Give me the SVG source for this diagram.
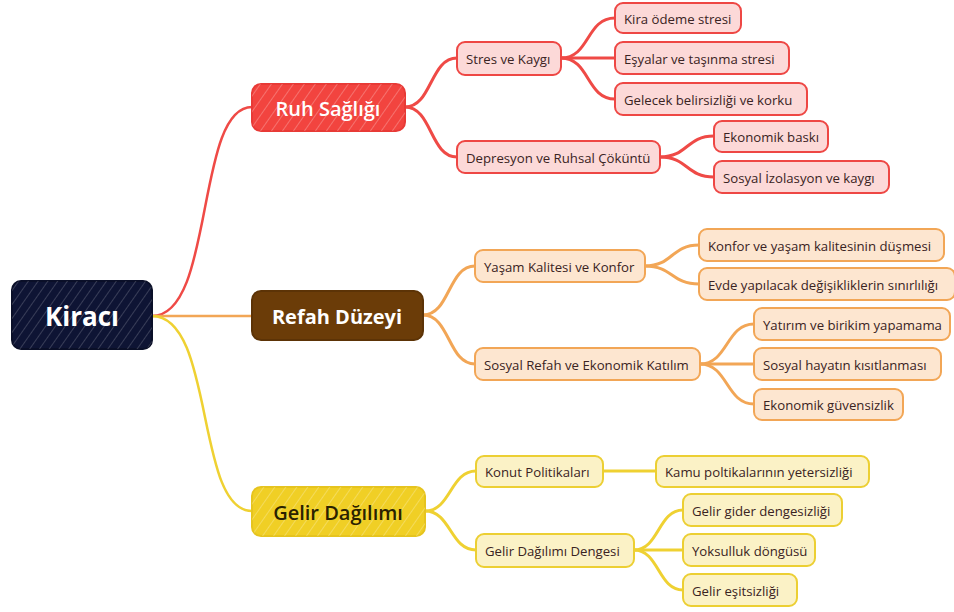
<svg xmlns="http://www.w3.org/2000/svg" width="954" height="612" viewBox="0 0 954 612">
<defs>
<pattern id="hatch" width="8" height="8" patternUnits="userSpaceOnUse" patternTransform="rotate(35)">
<line x1="0" y1="0" x2="0" y2="8" stroke="#ffffff" stroke-width="1" stroke-opacity="0.35"/>
</pattern>
<pattern id="hatchL" width="9" height="9" patternUnits="userSpaceOnUse" patternTransform="rotate(35)">
<line x1="0" y1="0" x2="0" y2="9" stroke="#ffffff" stroke-width="1" stroke-opacity="0.5"/>
</pattern>
</defs>
<style>
text{font-family:"Open Sans","Liberation Sans",sans-serif;dominant-baseline:central;text-anchor:middle}
.t1{font-size:20px;font-weight:600;fill:#ffffff}
.t1b{font-size:20px;font-weight:bold;fill:#ffffff}
.t1d{font-size:20px;font-weight:600;fill:#2a2200}
.t0{font-size:26px;font-weight:bold;fill:#ffffff}
.t{font-size:13.2px;fill:#3a2323;text-anchor:start}
.r{fill:#fcd9d8;stroke:#ee4744;stroke-width:2}
.o{fill:#fde6d0;stroke:#f2a656;stroke-width:2}
.y{fill:#fbf2c6;stroke:#eccf33;stroke-width:2}
.c{fill:none;stroke-linecap:round}
.cr{stroke:#ef4a46}
.co{stroke:#f2a656}
.cy{stroke:#efd132}
.w3{stroke-width:3}
.w2{stroke-width:2.5}
</style>
<g id="connectors">
<path class="c cr w2" d="M152,316 C215,316 195,107 252,107"/>
<path class="c co w2" d="M152,316 L252,316"/>
<path class="c cy w2" d="M152,316 C215,316 195,511 252,511"/>
<path class="c cr w3" d="M405,107 C432,107 430,58 457,58"/>
<path class="c cr w3" d="M405,107 C432,107 430,157 457,157"/>
<path class="c cr w3" d="M561,58 C590,58 586,18 615,18"/>
<path class="c cr w3" d="M561,58 L615,58"/>
<path class="c cr w3" d="M561,58 C590,58 586,99 615,99"/>
<path class="c cr w3" d="M660,157 C688,157 686,136 714,136"/>
<path class="c cr w3" d="M660,157 C688,157 686,177 714,177"/>
<path class="c co w3" d="M423,315 C450,315 448,266 475,266"/>
<path class="c co w3" d="M423,315 C450,315 448,364 475,364"/>
<path class="c co w3" d="M645,266 C673,266 671,245 699,245"/>
<path class="c co w3" d="M645,266 C673,266 671,284 699,284"/>
<path class="c co w3" d="M700,364 C728,364 726,324 754,324"/>
<path class="c co w3" d="M700,364 L754,364"/>
<path class="c co w3" d="M700,364 C728,364 726,404 754,404"/>
<path class="c cy w3" d="M425,511 C451,511 450,471 476,471"/>
<path class="c cy w3" d="M425,511 C451,511 450,550 476,550"/>
<path class="c cy w3" d="M603,471 L656,471"/>
<path class="c cy w3" d="M634,550 C659,550 658,510 683,510"/>
<path class="c cy w3" d="M634,550 L683,550"/>
<path class="c cy w3" d="M634,550 C659,550 658,590 683,590"/>
</g>
<g id="root">
<rect x="12" y="281" width="140" height="68" rx="9" fill="#0e1434" stroke="#0a0f28" stroke-width="2"/>
<rect x="12" y="281" width="140" height="68" rx="9" fill="url(#hatch)"/>
<text class="t0" x="82" y="316">Kiracı</text>
</g>
<g id="ruh">
<rect x="252" y="84" width="153" height="47" rx="9" fill="#f2443f" stroke="#e83a36" stroke-width="2"/>
<rect x="252" y="84" width="153" height="47" rx="9" fill="url(#hatchL)"/>
<text class="t1" x="328" y="108">Ruh Sağlığı</text>
</g>
<g id="refah">
<rect x="252" y="291" width="171" height="49" rx="9" fill="#6b3c08" stroke="#5c3306" stroke-width="2"/>
<text class="t1b" x="337" y="316">Refah Düzeyi</text>
</g>
<g id="gelir">
<rect x="252" y="487" width="173" height="49" rx="9" fill="#f0cf25" stroke="#e6c41e" stroke-width="2"/>
<rect x="252" y="487" width="173" height="49" rx="9" fill="url(#hatchL)"/>
<text class="t1d" x="338" y="512">Gelir Dağılımı</text>
</g>
<g id="stres"><rect class="r" x="457" y="42" width="104" height="33" rx="8"/><text class="t" x="466" y="58.5">Stres ve Kaygı</text></g>
<g id="depresyon"><rect class="r" x="457" y="141" width="203" height="32" rx="8"/><text class="t" x="466" y="157.5">Depresyon ve Ruhsal Çöküntü</text></g>
<g id="kira"><rect class="r" x="615" y="3" width="126" height="30" rx="8"/><text class="t" x="624" y="18.5">Kira ödeme stresi</text></g>
<g id="esyalar"><rect class="r" x="615" y="42" width="174" height="32" rx="8"/><text class="t" x="624" y="58.5">Eşyalar ve taşınma stresi</text></g>
<g id="gelecek"><rect class="r" x="615" y="83" width="192" height="32" rx="8"/><text class="t" x="624" y="99.5">Gelecek belirsizliği ve korku</text></g>
<g id="ekonomik"><rect class="r" x="714" y="121" width="114" height="31" rx="8"/><text class="t" x="723" y="136.5">Ekonomik baskı</text></g>
<g id="sosyaliz"><rect class="r" x="714" y="161" width="175" height="32" rx="8"/><text class="t" x="723" y="177.5">Sosyal İzolasyon ve kaygı</text></g>
<g id="yasam"><rect class="o" x="475" y="250" width="170" height="32" rx="8"/><text class="t" x="484" y="266.5">Yaşam Kalitesi ve Konfor</text></g>
<g id="sosyalrefah"><rect class="o" x="475" y="348" width="225" height="32" rx="8"/><text class="t" x="484" y="364.5">Sosyal Refah ve Ekonomik Katılım</text></g>
<g id="konfor"><rect class="o" x="699" y="229" width="245" height="32" rx="8"/><text class="t" x="708" y="245.5">Konfor ve yaşam kalitesinin düşmesi</text></g>
<g id="evde"><rect class="o" x="699" y="268" width="256" height="32" rx="8"/><text class="t" x="708" y="284.5">Evde yapılacak değişikliklerin sınırlılığı</text></g>
<g id="yatirim"><rect class="o" x="754" y="308" width="196" height="32" rx="8"/><text class="t" x="763" y="324.5">Yatırım ve birikim yapamama</text></g>
<g id="sosyalhayat"><rect class="o" x="754" y="348" width="187" height="32" rx="8"/><text class="t" x="763" y="364.5">Sosyal hayatın kısıtlanması</text></g>
<g id="guvensizlik"><rect class="o" x="754" y="389" width="149" height="31" rx="8"/><text class="t" x="763" y="404.5">Ekonomik güvensizlik</text></g>
<g id="konut"><rect class="y" x="476" y="456" width="127" height="31" rx="8"/><text class="t" x="485" y="471.5">Konut Politikaları</text></g>
<g id="dengesi"><rect class="y" x="476" y="534" width="158" height="33" rx="8"/><text class="t" x="485" y="550.5">Gelir Dağılımı Dengesi</text></g>
<g id="kamu"><rect class="y" x="656" y="456" width="213" height="31" rx="8"/><text class="t" x="665" y="471.5">Kamu poltikalarının yetersizliği</text></g>
<g id="gider"><rect class="y" x="683" y="494" width="159" height="32" rx="8"/><text class="t" x="692" y="510.5">Gelir gider dengesizliği</text></g>
<g id="yoksulluk"><rect class="y" x="683" y="534" width="132" height="32" rx="8"/><text class="t" x="692" y="550.5">Yoksulluk döngüsü</text></g>
<g id="esitsizlik"><rect class="y" x="683" y="574" width="114" height="32" rx="8"/><text class="t" x="692" y="590.5">Gelir eşitsizliği</text></g>
</svg>
